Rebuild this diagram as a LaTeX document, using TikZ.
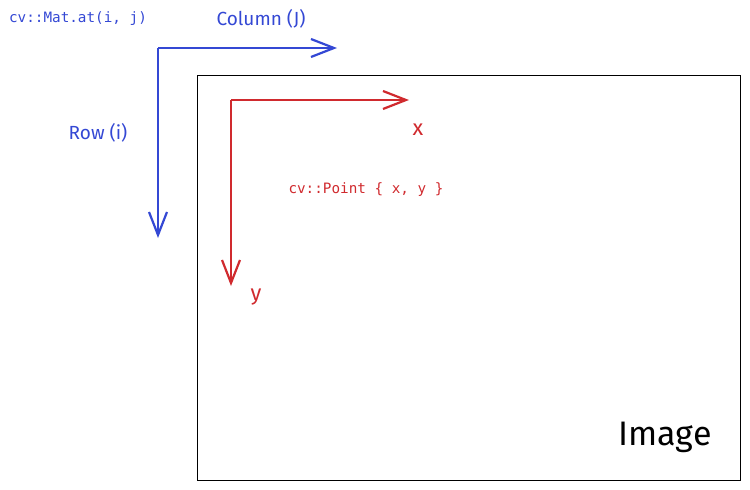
\documentclass[tikz,border=0pt]{standalone}
\usepackage{fontspec}
\setmainfont{Fira Sans}
\newfontfamily\codefont{DejaVu Sans Mono}
\usetikzlibrary{arrows.meta}
\definecolor{cvblue}{RGB}{52,72,212}
\definecolor{cvred}{RGB}{208,42,46}
\tikzset{
  axis/.style={line width=2.2pt, -{Straight Barb[length=23pt,width=18pt,line width=2.2pt]}},
  codelbl/.style={font=\codefont\fontsize{14.3}{17}\selectfont, inner sep=0pt},
  handlbl/.style={font=\fontsize{19}{22}\selectfont, inner sep=0pt},
}
\begin{document}
\begin{tikzpicture}[x=1pt,y=-1pt]
\useasboundingbox (0,0) rectangle (750,490);
% image frame
\node[draw=black, line width=1.3pt, minimum width=543pt, minimum height=405pt, anchor=north west, inner sep=0pt] (img) at (197,75) {};
\node[font=\fontsize{34}{38}\selectfont, anchor=center] (imgl) at (665,437) {Image};
% blue axes
\coordinate (bo) at (158,48);
\coordinate (bx) at (337,48);
\coordinate (by) at (158,238);
\draw[axis, cvblue] (bo) -- (bx);
\draw[axis, cvblue] (bo) -- (by);
\node[codelbl, text=cvblue] (mat) at (78,19) {cv::Mat.at(i, j)};
\node[handlbl, text=cvblue] (col) at (261,19) {Column (J)};
\node[handlbl, text=cvblue] (row) at (98,133) {Row (i)};
% red axes
\coordinate (ro) at (231,100);
\coordinate (rx) at (409,100);
\coordinate (ry) at (231,286);
\draw[axis, cvred] (ro) -- (rx);
\draw[axis, cvred] (ro) -- (ry);
\node[handlbl, text=cvred, font=\fontsize{22}{24}\selectfont] (xl) at (418,130) {x};
\node[handlbl, text=cvred, font=\fontsize{22}{24}\selectfont] (yl) at (256,297) {y};
\node[codelbl, text=cvred] (pt) at (366,190) {cv::Point \{ x, y \}};
\end{tikzpicture}
\end{document}
